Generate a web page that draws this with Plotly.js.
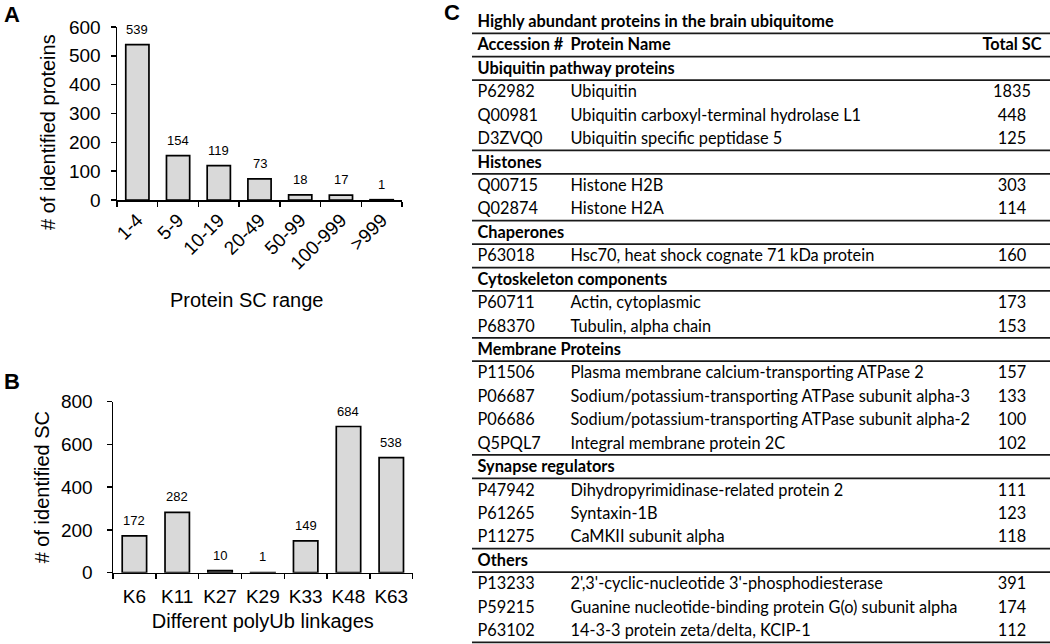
<!DOCTYPE html>
<html>
<head>
<meta charset="utf-8">
<script src="https://cdn.plot.ly/plotly-3.0.1.min.js"></script>
<style>
  html, body { margin: 0; padding: 0; background: #fff; }
  #chart { width: 1050px; height: 644px; }
</style>
</head>
<body>
<div id="chart"></div>
<script>
// ---------------- DATA ----------------
// Panel A
const scRanges = ["1-4", "5-9", "10-19", "20-49", "50-99", "100-999", ">999"];
const proteinCounts = [539, 154, 119, 73, 18, 17, 1];
const panelATitleX = "Protein SC range";
const panelATitleY = "# of identified proteins";

// Panel B
const linkages = ["K6", "K11", "K27", "K29", "K33", "K48", "K63"];
const linkageSC = [172, 282, 10, 1, 149, 684, 538];
const panelBTitleX = "Different polyUb linkages";
const panelBTitleY = "# of identified SC";

// Panel C (table)
const tableTitle = "Highly abundant proteins in the brain ubiquitome";
const tableHeader = ["Accession #", "Protein Name", "Total SC"];
const accession = ["P62982", "Q00981", "D3ZVQ0", "Q00715", "Q02874", "P63018", "P60711", "P68370",
  "P11506", "P06687", "P06686", "Q5PQL7", "P47942", "P61265", "P11275", "P13233", "P59215", "P63102"];
const proteinName = ["Ubiquitin", "Ubiquitin carboxyl-terminal hydrolase L1", "Ubiquitin specific peptidase 5",
  "Histone H2B", "Histone H2A", "Hsc70, heat shock cognate 71 kDa protein", "Actin, cytoplasmic",
  "Tubulin, alpha chain", "Plasma membrane calcium-transporting ATPase 2",
  "Sodium/potassium-transporting ATPase subunit alpha-3", "Sodium/potassium-transporting ATPase subunit alpha-2",
  "Integral membrane protein 2C", "Dihydropyrimidinase-related protein 2", "Syntaxin-1B", "CaMKII subunit alpha",
  "2',3'-cyclic-nucleotide 3'-phosphodiesterase",
  "Guanine nucleotide-binding protein G(o) subunit alpha", "14-3-3 protein zeta/delta, KCIP-1"];
const totalSC = [1835, 448, 125, 303, 114, 160, 173, 153, 157, 133, 100, 102, 111, 123, 118, 391, 174, 112];
const proteinGroup = ["Ubiquitin pathway proteins", "Ubiquitin pathway proteins", "Ubiquitin pathway proteins",
  "Histones", "Histones", "Chaperones", "Cytoskeleton components", "Cytoskeleton components",
  "Membrane Proteins", "Membrane Proteins", "Membrane Proteins", "Membrane Proteins",
  "Synapse regulators", "Synapse regulators", "Synapse regulators", "Others", "Others", "Others"];

// ---------------- STYLE ----------------
const W = 1050, H = 644;
const ARIAL = 'Arial, "Liberation Sans", sans-serif';
const TFONT = 'Lato, "Open Sans", sans-serif';
const barFill = "#d9d9d9";

function fitSize(text, family, weight, targetW) {
  const c = document.createElement("canvas").getContext("2d");
  c.font = weight + " 100px " + family;
  return 100 * targetW / c.measureText(text).width;
}
const tSize = Math.min(18, Math.max(13, fitSize("Plasma membrane calcium-transporting ATPase 2", TFONT, "normal", 354)));

// table geometry (pixel units along table axes)
const tableLeftPx = 472, firstLinePx = 33.3, lastLinePx = 642.3;

// ---------------- BUILD TABLE ROWS ----------------
const rows = [];
rows.push({ kind: "title" });
rows.push({ kind: "header" });
let prevGroup = null;
for (let i = 0; i < accession.length; i++) {
  if (proteinGroup[i] !== prevGroup) {
    rows.push({ kind: "section", label: proteinGroup[i] });
    prevGroup = proteinGroup[i];
  }
  rows.push({ kind: "item", idx: i });
}
const nRows = rows.length;
const rowH = (lastLinePx - firstLinePx) / (nRows - 1);
const yTop = -firstLinePx / rowH + 1;
const yBot = (H - firstLinePx) / rowH + 1;

const col1X = 5.5, col2X = 98.5, col3X = 540, tableWidth = W - tableLeftPx;
const dy = 0.56;

const boldX = [], boldY = [], boldT = [];
const c1X = [], c1Y = [], c1T = [];
const c2X = [], c2Y = [], c2T = [];
const c3X = [], c3Y = [], c3T = [];
const lineRows = new Set([1, 2, nRows]);
rows.forEach((r, k) => {
  const y = k + dy;
  if (r.kind === "title") { boldX.push(col1X); boldY.push(y); boldT.push(tableTitle); }
  else if (r.kind === "header") {
    boldX.push(col1X); boldY.push(y); boldT.push(tableHeader[0]);
    boldX.push(col2X); boldY.push(y); boldT.push(tableHeader[1]);
  }
  else if (r.kind === "section") {
    boldX.push(col1X); boldY.push(y); boldT.push(r.label);
    lineRows.add(k); lineRows.add(k + 1);
  } else {
    c1X.push(col1X); c1Y.push(y); c1T.push(accession[r.idx]);
    c2X.push(col2X); c2Y.push(y); c2T.push(proteinName[r.idx]);
    c3X.push(col3X); c3Y.push(y); c3T.push(String(totalSC[r.idx]));
  }
});
const headerSCy = 1 + dy;

const tfont = { family: TFONT, size: tSize, color: "#000" };
const tfontB = { family: TFONT, size: tSize, color: "#000", weight: 700 };

const traces = [
  { type: "bar", x: scRanges, y: proteinCounts, xaxis: "x", yaxis: "y",
    marker: { color: barFill, line: { color: "#000", width: 1.7 } }, hoverinfo: "x+y" },
  { type: "bar", x: linkages, y: linkageSC, xaxis: "x2", yaxis: "y2",
    marker: { color: barFill, line: { color: "#000", width: 1.7 } }, hoverinfo: "x+y" },
  { type: "scatter", mode: "text", x: boldX, y: boldY, text: boldT, textposition: "middle right",
    textfont: tfontB, xaxis: "x3", yaxis: "y3", hoverinfo: "skip", cliponaxis: false },
  { type: "scatter", mode: "text", x: [col3X], y: [headerSCy], text: [tableHeader[2]], textposition: "middle center",
    textfont: tfontB, xaxis: "x3", yaxis: "y3", hoverinfo: "skip", cliponaxis: false },
  { type: "scatter", mode: "text", x: c1X, y: c1Y, text: c1T, textposition: "middle right",
    textfont: tfont, xaxis: "x3", yaxis: "y3", hoverinfo: "skip", cliponaxis: false },
  { type: "scatter", mode: "text", x: c2X, y: c2Y, text: c2T, textposition: "middle right",
    textfont: tfont, xaxis: "x3", yaxis: "y3", hoverinfo: "skip", cliponaxis: false },
  { type: "scatter", mode: "text", x: c3X, y: c3Y, text: c3T, textposition: "middle center",
    textfont: tfont, xaxis: "x3", yaxis: "y3", hoverinfo: "skip", cliponaxis: false }
];

const shapes = [];
[...lineRows].forEach(k => {
  shapes.push({ type: "line", xref: "x3", yref: "y3", x0: 0, x1: tableWidth, y0: k, y1: k,
    line: { color: "#1a1a1a", width: 1.8 } });
});

const annotations = [];
scRanges.forEach((c, i) => annotations.push({ xref: "x", yref: "y", x: c, y: proteinCounts[i],
  text: String(proteinCounts[i]), showarrow: false, yanchor: "bottom", yshift: 6,
  font: { family: ARIAL, size: 13, color: "#000" } }));
linkages.forEach((c, i) => annotations.push({ xref: "x2", yref: "y2", x: c, y: linkageSC[i],
  text: String(linkageSC[i]), showarrow: false, yanchor: "bottom", yshift: 6,
  font: { family: ARIAL, size: 13, color: "#000" } }));
[["A", 12, 14.5], ["B", 11.5, 382], ["C", 452, 12.5]].forEach(([t, px, py]) => annotations.push({
  xref: "paper", yref: "paper", x: px / W, y: 1 - py / H, text: "<b>" + t + "</b>", showarrow: false,
  xanchor: "center", yanchor: "middle", font: { family: ARIAL, size: 22, color: "#000" } }));
// Panel A axis titles (placed as in the original figure)
annotations.push({ xref: "paper", yref: "paper", x: 48 / W, y: 1 - 132 / H, text: panelATitleY,
  textangle: -90, showarrow: false, xanchor: "center", yanchor: "middle",
  font: { family: ARIAL, size: 20, color: "#000" } });
annotations.push({ xref: "paper", yref: "paper", x: 246 / W, y: 1 - 300 / H, text: panelATitleX,
  showarrow: false, xanchor: "center", yanchor: "middle",
  font: { family: ARIAL, size: 20, color: "#000" } });

const axBase = { showgrid: false, zeroline: false, showline: true, linecolor: "#000", linewidth: 1.5,
  ticks: "outside", ticklen: 5, tickwidth: 1.5, tickcolor: "#000", fixedrange: true,
  tickfont: { family: ARIAL, size: 19, color: "#000" } };

const layout = {
  width: W, height: H, autosize: false, showlegend: false,
  margin: { l: 0, r: 0, t: 0, b: 0, pad: 0 },
  paper_bgcolor: "#fff", plot_bgcolor: "#fff",
  bargap: 0.43,
  font: { family: ARIAL, color: "#000" },
  xaxis: Object.assign({}, axBase, { domain: [117 / W, 402 / W], anchor: "y", type: "category",
    tickson: "boundaries", tickangle: -45, range: [-0.5, 6.5] }),
  yaxis: Object.assign({}, axBase, { domain: [1 - 200 / H, 1 - 27 / H], anchor: "x", range: [0, 600],
    dtick: 100, ticklabelstandoff: 6 }),
  xaxis2: Object.assign({}, axBase, { domain: [113 / W, 412.7 / W], anchor: "y2", type: "category",
    tickson: "boundaries", tickangle: 0, range: [-0.5, 6.5], ticklabelstandoff: 6,
    title: { text: panelBTitleX, font: { family: ARIAL, size: 20 }, standoff: 8 } }),
  yaxis2: Object.assign({}, axBase, { domain: [1 - 572.7 / H, 1 - 401.7 / H], anchor: "x2", range: [0, 800],
    dtick: 200, ticklabelstandoff: 10,
    title: { text: panelBTitleY, font: { family: ARIAL, size: 20 }, standoff: 6 } }),
  xaxis3: { domain: [tableLeftPx / W, 1], anchor: "y3", range: [0, tableWidth], visible: false, fixedrange: true },
  yaxis3: { domain: [0, 1], anchor: "x3", range: [yBot, yTop], visible: false, fixedrange: true },
  shapes: shapes,
  annotations: annotations
};

Plotly.newPlot("chart", traces, layout, { displayModeBar: false, staticPlot: true });
</script>
</body>
</html>
